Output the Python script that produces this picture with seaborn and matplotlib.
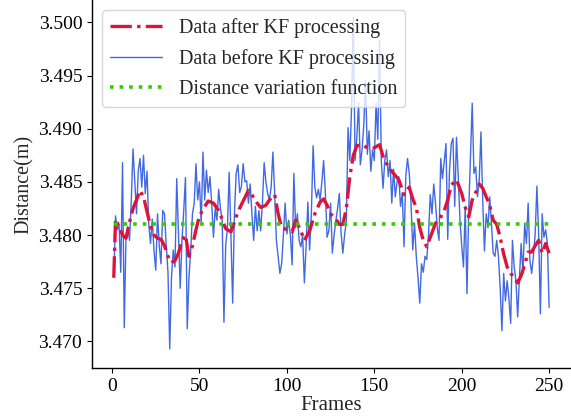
import matplotlib
matplotlib.use("Agg")
import matplotlib.pyplot as plt
import seaborn as sns
import pandas as pd

frames = list(range(1, 251))

raw_values = [
    3.4760, 3.4818, 3.4805, 3.4810, 3.4765, 3.4868, 3.4713, 3.4800, 3.4808, 3.4795,
    3.4832, 3.4881, 3.4850, 3.4820, 3.4860, 3.4872, 3.4845, 3.4875, 3.4839, 3.4860,
    3.4810, 3.4792, 3.4815, 3.4785, 3.4767, 3.4820, 3.4790, 3.4773, 3.4823, 3.4820,
    3.4790, 3.4765, 3.4693, 3.4760, 3.4786, 3.4770, 3.4853, 3.4800, 3.4750, 3.4795,
    3.4823, 3.4854, 3.4712, 3.4760, 3.4786, 3.4820, 3.4830, 3.4867, 3.4833, 3.4850,
    3.4810, 3.4878, 3.4833, 3.4861, 3.4840, 3.4855, 3.4830, 3.4798, 3.4825, 3.4814,
    3.4843, 3.4825, 3.4814, 3.4718, 3.4790, 3.4807, 3.4859, 3.4800, 3.4736, 3.4820,
    3.4858, 3.4866, 3.4840, 3.4846, 3.4867, 3.4850, 3.4851, 3.4830, 3.4848, 3.4820,
    3.4795, 3.4827, 3.4804, 3.4823, 3.4804, 3.4830, 3.4868, 3.4850, 3.4839, 3.4833,
    3.4845, 3.4878, 3.4840, 3.4795, 3.4780, 3.4764, 3.4773, 3.4800, 3.4830, 3.4801,
    3.4814, 3.4800, 3.4772, 3.4858, 3.4807, 3.4820, 3.4795, 3.4789, 3.4800, 3.4755,
    3.4790, 3.4831, 3.4786, 3.4820, 3.4884, 3.4845, 3.4835, 3.4843, 3.4833, 3.4850,
    3.4870, 3.4840, 3.4798, 3.4804, 3.4830, 3.4783, 3.4800, 3.4813, 3.4825, 3.4839,
    3.4802, 3.4783, 3.4800, 3.4813, 3.4901, 3.4870, 3.4920, 3.5005, 3.4870, 3.4892,
    3.4924, 3.4866, 3.4880, 3.4904, 3.4945, 3.4876, 3.4898, 3.4860, 3.4880, 3.4870,
    3.4924, 3.4890, 3.4983, 3.4870, 3.4844, 3.4870, 3.4880, 3.4855, 3.4870, 3.4830,
    3.4862, 3.4836, 3.4850, 3.4855, 3.4827, 3.4840, 3.4789, 3.4855, 3.4872, 3.4858,
    3.4830, 3.4786, 3.4811, 3.4780, 3.4760, 3.4736, 3.4773, 3.4765, 3.4780, 3.4777,
    3.4800, 3.4838, 3.4820, 3.4848, 3.4830, 3.4807, 3.4795, 3.4872, 3.4853, 3.4870,
    3.4886, 3.4796, 3.4860, 3.4886, 3.4891, 3.4827, 3.4892, 3.4855, 3.4814, 3.4790,
    3.4770, 3.4827, 3.4745, 3.4823, 3.4873, 3.4924, 3.4858, 3.4864, 3.4836, 3.4851,
    3.4897, 3.4833, 3.4785, 3.4820, 3.4807, 3.4836, 3.4811, 3.4783, 3.4780, 3.4795,
    3.4780, 3.4750, 3.4710, 3.4764, 3.4738, 3.4757, 3.4740, 3.4717, 3.4795, 3.4770,
    3.4757, 3.4723, 3.4760, 3.4792, 3.4764, 3.4811, 3.4792, 3.4830, 3.4776, 3.4764,
    3.4780, 3.4801, 3.4846, 3.4801, 3.4726, 3.4820, 3.4798, 3.4805, 3.4792, 3.4732,
]

kf_frames = [
    1, 2, 4, 6, 8, 10, 12, 14, 16, 18, 20, 22, 24, 26, 28, 30, 32, 34, 36, 38,
    40, 42, 44, 46, 48, 50, 52, 55, 58, 61, 63, 65, 68, 70, 72, 75, 78, 80, 82, 85,
    88, 90, 93, 95, 97, 100, 103, 105, 108, 110, 113, 116, 119, 121, 123, 125, 128, 130, 132, 134,
    136, 138, 140, 143, 146, 150, 153, 155, 158, 161, 164, 167, 170, 172, 174, 176, 178, 180, 182, 185,
    188, 190, 192, 194, 197, 200, 202, 204, 206, 208, 210, 212, 214, 216, 218, 220, 222, 224, 226, 228,
    230, 232, 234, 236, 238, 240, 242, 244, 246, 248, 250,
]
kf_values = [
    3.4760, 3.4815, 3.4808, 3.4800, 3.4797, 3.4812, 3.4825, 3.4833, 3.4842, 3.4836,
    3.4822, 3.4808, 3.4800, 3.4797, 3.4796, 3.4790, 3.4780, 3.4774, 3.4776, 3.4783,
    3.4795, 3.4800, 3.4780, 3.4790, 3.4805, 3.4818, 3.4824, 3.4832, 3.4830, 3.4823,
    3.4815, 3.4806, 3.4803, 3.4812, 3.4822, 3.4832, 3.4842, 3.4838, 3.4832, 3.4826,
    3.4828, 3.4833, 3.4838, 3.4820, 3.4807, 3.4805, 3.4803, 3.4814, 3.4804, 3.4795,
    3.4804, 3.4820, 3.4831, 3.4834, 3.4828, 3.4820, 3.4815, 3.4810, 3.4810, 3.4825,
    3.4855, 3.4875, 3.4884, 3.4885, 3.4882, 3.4882, 3.4885, 3.4874, 3.4864, 3.4858,
    3.4852, 3.4838, 3.4845, 3.4834, 3.4826, 3.4807, 3.4795, 3.4789, 3.4798, 3.4811,
    3.4817, 3.4823, 3.4833, 3.4847, 3.4852, 3.4839, 3.4826, 3.4817, 3.4833, 3.4840,
    3.4848, 3.4844, 3.4836, 3.4828, 3.4814, 3.4810, 3.4798, 3.4782, 3.4770, 3.4764,
    3.4760, 3.4755, 3.4762, 3.4772, 3.4784, 3.4784, 3.4790, 3.4795, 3.4783, 3.4792,
    3.4783,
]

true_distance = 3.481

raw_df = pd.DataFrame({"Frames": frames, "Distance": raw_values})
kf_df = pd.DataFrame({"Frames": kf_frames, "Distance": kf_values})
true_df = pd.DataFrame({"Frames": frames, "Distance": [true_distance] * len(frames)})

sns.set_style("ticks")
plt.rcParams["font.family"] = ["Liberation Serif", "DejaVu Serif"]

fig = plt.figure(figsize=(5.71, 4.18), dpi=100)
ax = fig.add_axes([0.161, 0.1196, 0.839, 0.8804])

sns.lineplot(data=kf_df, x="Frames", y="Distance", ax=ax, color="#DC143C",
             linewidth=2.4, linestyle="-.", label="Data after KF processing", zorder=3)
sns.lineplot(data=raw_df, x="Frames", y="Distance", ax=ax, color="#4169E1",
             linewidth=1.0, label="Data before KF processing", zorder=2)
sns.lineplot(data=true_df, x="Frames", y="Distance", ax=ax, color="#33CC00",
             linewidth=2.6, linestyle=":", label="Distance variation function", zorder=4)

ax.set_xlim(-11.5, 262.5)
ax.set_ylim(3.4675, 3.5021)
ax.set_xticks([0, 50, 100, 150, 200, 250])
ax.set_yticks([3.470, 3.475, 3.480, 3.485, 3.490, 3.495, 3.500])
ax.set_yticklabels(["3.470", "3.475", "3.480", "3.485", "3.490", "3.495", "3.500"])
ax.tick_params(labelsize=14, colors="black")
ax.set_xlabel("Frames", fontsize=15, labelpad=1)
ax.set_ylabel("Distance(m)", fontsize=14.5, labelpad=3)
sns.despine(ax=ax)
for s in ["left", "bottom"]:
    ax.spines[s].set_color("black")
    ax.spines[s].set_linewidth(1.0)

leg = ax.legend(loc="upper left", fontsize=14.5, frameon=True, borderaxespad=0.5,
                handlelength=2.6, labelspacing=0.55, fancybox=True)
leg.get_frame().set_edgecolor("#cccccc")

fig.savefig("out.png", dpi=100)
